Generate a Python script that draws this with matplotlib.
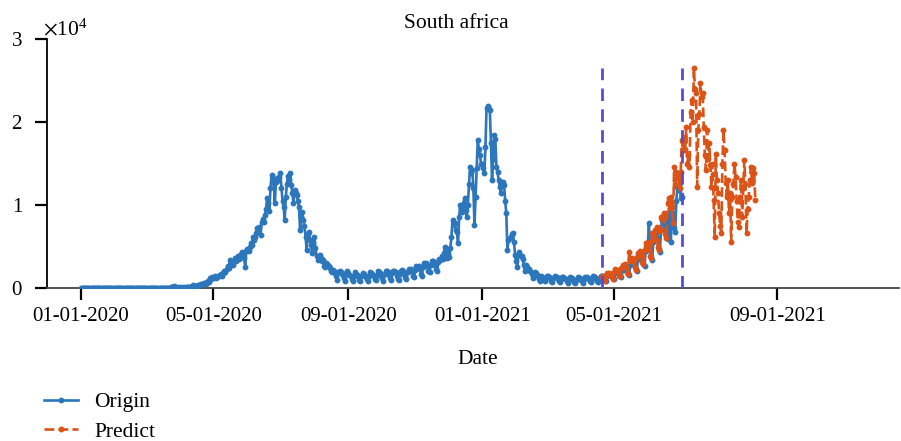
import matplotlib
matplotlib.use("Agg")
import matplotlib.pyplot as plt
from matplotlib.ticker import ScalarFormatter
import numpy as np

plt.rcParams['font.family'] = ['Liberation Serif', 'DejaVu Serif']
plt.rcParams['mathtext.fontset'] = 'stix'

title = "South africa"
xlabel = "Date"
tick_days = [0, 121, 244, 366, 486, 635]
tick_labels = ["01-01-2020", "05-01-2020", "09-01-2020", "01-01-2021", "05-01-2021", "09-01-2021"]
split_days = [475.4, 548.0]

origin_start = 0
origin_values = [
    0, 0, 0, 0, 0, 0, 0, 0, 0, 0, 0, 0, 0, 0, 0, 0,
    0, 0, 0, 0, 0, 0, 0, 0, 0, 0, 0, 0, 0, 0, 0, 0,
    0, 0, 0, 0, 0, 0, 0, 0, 0, 0, 0, 0, 0, 0, 0, 0,
    0, 0, 0, 0, 0, 0, 0, 0, 0, 0, 0, 0, 0, 0, 0, 0,
    1, 0, 1, 4, 1, 4, 3, 5, 3, 7, 13, 13, 24, 20, 34, 35,
    48, 55, 178, 128, 152, 219, 118, 93, 48, 46, 64, 25, 109, 23, 38, 65,
    55, 69, 99, 117, 86,
    150, 360, 180, 250, 300, 280, 350, 420, 380, 500, 450, 560, 620, 540, 700, 800, 720, 1200,
    1100, 1350, 1250, 1400, 1150, 1300, 1500, 1450, 1560, 1700, 1500, 1800, 2100, 1900, 2300, 2600,
    2400, 3370, 3000, 3100, 2770, 3200, 3600, 3300, 3900, 3500, 3700, 4100, 4330, 3900, 3600, 2500,
    4500, 4700, 4400, 4940, 5400, 5200, 6140, 5800, 6100, 6600, 7220,
    6800, 7300, 6400, 7900, 8300, 8000, 8800, 9500, 10800, 10200, 9300, 12000, 13600, 13100, 12600, 10200,
    12800, 13300, 13000, 13400, 13800, 12100, 10500, 9800, 8200, 11000, 12500, 13500, 13100, 13800, 12400, 11400,
    10200, 11800, 11500, 11200, 10500, 9800, 7000, 8600, 9100, 8200, 7500, 6200, 4600, 6500, 6800, 5800,
    5200, 4200, 5500, 6100, 4800, 3900, 3400, 3700, 4000, 3600, 3200, 3400, 2600, 2500, 3000, 2900,
    2700, 2400, 2100, 1900, 2200,
    2000, 1800, 1400, 1000, 1900, 2100, 1900,
    1700, 1600, 1200, 900, 1800, 2000, 1800,
    1600, 1500, 1100, 800, 1500, 1900, 1700,
    1600, 1400, 1000, 800, 1400, 1800, 1700,
    1500, 1300, 1100, 900, 1500, 1900, 1800,
    1700, 1400, 1100, 1000, 1600, 2000, 1900,
    1800, 1500, 1200, 900, 1700, 2100, 2000,
    1900, 1600, 1200, 1000, 1800, 2100, 2000,
    1900, 1500, 1100, 1000, 1700, 2000, 2200,
    2100, 1800, 1300, 1100, 1900, 2300, 2200,
    2300, 2000, 1400, 1300, 2200, 2600, 2500,
    2700, 2300, 1700, 1500, 2500, 3000, 2900,
    3000, 2700, 2000, 1900, 2800, 3300, 3200,
    3100, 2800, 2300, 2100, 3100, 3500, 3400,
    3800, 3500, 4200, 4900, 4500, 3600, 4100,
    3700, 4800, 6200, 8200, 7600, 7800, 7000,
    6800, 5400, 8500, 10000, 9600, 9200, 10300,
    10800, 9400, 8500, 10000, 12500, 14600, 13900,
    14200, 12000, 7600, 11000, 14500, 17800, 16800,
    16000, 15000, 15000, 14500, 13800, 17000, 21700,
    21900, 21600, 21400, 17500, 13000, 15500, 18400,
    17900, 14600, 14000, 13000, 12200, 11500, 12600,
    12800, 12400, 10500, 9000, 4600, 5800, 6000,
    6200, 6500, 6600, 5500, 4000, 3200, 2500,
    4000, 4300, 3900, 3800, 3500, 2800, 2000,
    2800, 2500, 2200, 2300, 2000, 1700, 1200,
    1600, 1900, 1800, 1600, 1400, 1100, 900,
    1500, 1300, 1000, 800, 1300, 1500, 1400,
    1300, 1200, 900, 700, 1200, 1400, 1300,
    1300, 1100, 800, 700, 1100, 1300, 1300,
    1200, 1100, 800, 600, 1100, 1300, 1200,
    1200, 1000, 700, 600, 1000, 1300, 1200,
    1200, 1000, 800, 600, 1100, 1300, 1200,
    1300, 1100, 800, 700, 1200, 1400, 1300,
    1300, 1100, 800, 700, 1200, 1400, 1400,
    1500, 1300, 1000, 900, 1500, 1700, 1600,
    1700, 1500, 1200, 1100, 1800, 2100, 2000,
    2100, 1800, 1400, 1300, 2200, 2600, 2500,
    2700, 2300, 1800, 1600, 2800, 3300, 3200,
    3400, 3000, 2300, 2100, 3500, 4100, 4000,
    4200, 3800, 3000, 2700, 4400, 5200, 5000,
    7800, 4800, 3700, 3400, 5600, 6600, 6400,
    6800, 6000, 4700, 4300, 7000, 8200, 8000,
    8400, 7500, 8500, 5900, 7700, 9500, 5500,
    9800, 9000, 7200, 6800, 10500, 12200, 11800,
    12600, 10800, 11000,
]

predict_start = 475
predict_values = [
    1300, 1500, 1100, 900, 1400, 1800, 1700,
    1800, 1600, 1300, 1100, 1900, 2300, 2100,
    2200, 2000, 1500, 1400, 2400, 2800, 2600,
    2900, 2500, 1900, 1700, 4300, 3500, 3300,
    3600, 3200, 2500, 2200, 3700, 4200, 4000,
    4400, 4300, 3100, 2900, 4600, 5400, 5200,
    5600, 4900, 3900, 3600, 6600, 5800, 6400,
    7000, 7300, 5000, 4600, 7000, 8600, 8300,
    8700, 9000, 6500, 6000, 10200, 10800, 9600,
    11000, 9800, 7800, 14600, 12500, 14000, 13200,
    13500, 12000, 14000, 17800, 16600, 18200, 16600,
    19400, 15000, 16000, 14600, 21200, 22600, 20000,
    26500, 24000, 23500, 12200, 19000, 21000, 24700,
    23000, 23500, 19400, 16000, 14200, 19000, 15500,
    17500, 14800, 12200, 15000, 10600, 6100, 16200,
    13000, 11500, 9000, 7500, 6600, 15000, 19000,
    16600, 12700, 11000, 13000, 9000, 11500, 5500,
    11000, 12500, 15000, 13400, 10500, 8000, 7300,
    11000, 13000, 8500, 12000, 15400, 12500, 6600,
    9500, 11000, 13000, 14600, 12700, 14400, 13800,
    10600,
]

origin_days = origin_start + np.arange(len(origin_values))
predict_days = predict_start + np.arange(len(predict_values))

blue = "#2c76bb"
orange = "#dc5318"
vcol = "#5a4ccc"

fig = plt.figure(figsize=(9.01, 4.41), dpi=100)
ax = fig.add_axes([47/901, 1 - 288/441, (899 - 47)/901, (288 - 39)/441])

ax.plot(origin_days, origin_values, color=blue, lw=1.9, marker='o', ms=3.2,
        label="Origin", zorder=3)
ax.plot(predict_days, predict_values, color=orange, lw=1.9, ls='--', marker='o', ms=3.2,
        label="Predict", zorder=4)
ax.vlines(split_days, 0, 26500, colors=vcol, linestyles=(0, (4.5, 3)), lw=2.0, zorder=5)

ax.set_xlim(-30.7, 746)
ax.set_ylim(0, 30000)
ax.set_xticks(tick_days)
ax.set_xticklabels(tick_labels)
ax.set_yticks([0, 10000, 20000, 30000])
fmt = ScalarFormatter(useMathText=True)
fmt.set_powerlimits((0, 0))
ax.yaxis.set_major_formatter(fmt)
ax.yaxis.get_offset_text().set_fontsize(15.5)
ax.yaxis.get_offset_text().set_x(-0.005)

for s in ['top', 'right']:
    ax.spines[s].set_visible(False)
ax.spines['left'].set_linewidth(1.3)
ax.spines['bottom'].set_linewidth(1.3)
ax.spines['bottom'].set_color('#444444')
ax.tick_params(axis='both', direction='out', length=8.5, width=1.6, labelsize=15)
ax.tick_params(axis='y', pad=9)
ax.tick_params(axis='x', pad=5)

fig.text(456/901, 1 - 24/441, title, ha='center', va='center', fontsize=15.5)
fig.text(478/901, 1 - 359/441, xlabel, ha='center', va='center', fontsize=15.5)

fig.legend(loc='upper left', bbox_to_anchor=(44/901, 1 - 392/441), frameon=False,
           fontsize=15.5, borderpad=0, borderaxespad=0, handlelength=1.6,
           handletextpad=0.75, labelspacing=0.45)

fig.savefig("out.png", dpi=100)
